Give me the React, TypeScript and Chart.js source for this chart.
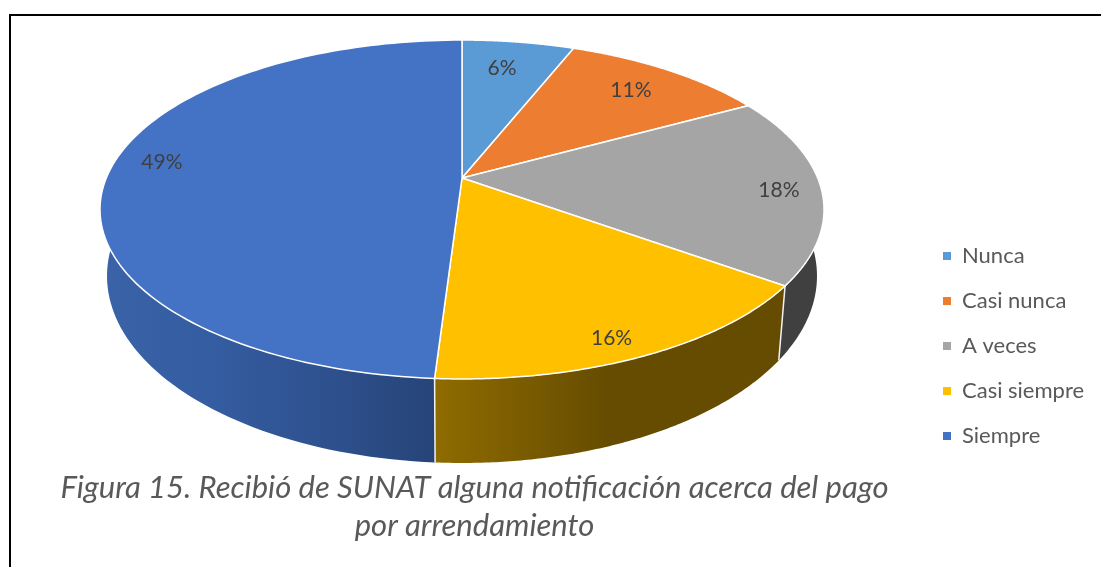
import React, { useEffect, useRef } from "react";
import { Chart, registerables } from "chart.js";

Chart.register(...registerables);

const categories = ["Nunca", "Casi nunca", "A veces", "Casi siempre", "Siempre"];
const percentages = [6, 11, 18, 16, 49];
const sliceColors = ["#5B9BD5", "#ED7D31", "#A5A5A5", "#FFC000", "#4472C4"];
const titleLines = [
  "Figura 15. Recibió de SUNAT alguna notificación acerca del pago",
  "por arrendamiento",
];

// Perspective of the two rims of the 3D disc
const K = 0.1858;
const TOP = { x0: 462, y0: 178, a: 355.7, b: 163.6 };
const BOT = { x0: 462, y0: 241.3, a: 348.8, b: 180.5 };
const LABEL_RADIUS = [0.779, 0.798, 0.882, 0.9, 0.865];
const LABEL_NUDGE_DEG = [-1.3, 0, 1.1, 1.9, 4.8];

type Rim = typeof TOP;
const project = (r: Rim, u: number, v: number) => {
  const w = 1 - K * v;
  return { x: r.x0 + (r.a * u) / w, y: r.y0 + (r.b * v) / w };
};
const rimPoint = (r: Rim, angle: number, scale = 1) =>
  project(r, scale * Math.cos(angle), scale * Math.sin(angle));

const sideFill = (ctx: CanvasRenderingContext2D, i: number) => {
  if (i === 4) {
    const g = ctx.createLinearGradient(100, 0, 434, 0);
    g.addColorStop(0, "#3A63A8");
    g.addColorStop(0.35, "#345CA0");
    g.addColorStop(0.65, "#2F5290");
    g.addColorStop(1, "#264478");
    return g;
  }
  if (i === 3) {
    const g = ctx.createLinearGradient(434, 0, 780, 0);
    g.addColorStop(0, "#8F6C00");
    g.addColorStop(0.5, "#664C00");
    g.addColorStop(1, "#664C00");
    return g;
  }
  return "#404040";
};

const pie3d = {
  id: "pie3d",
  beforeDraw(chart: any) {
    const legend = chart.legend;
    legend.left = 920;
    legend.top = 222;
    legend.bottom = 500;
    const title = chart.titleBlock;
    title.left = 0;
    title.right = 949;
    title.top = 469;
    title.bottom = 552;
  },
  beforeDatasetsDraw(chart: any) {
    const ctx: CanvasRenderingContext2D = chart.ctx;
    const arcs = chart.getDatasetMeta(0).data;
    ctx.save();
    const steps = 120;
    const sample = (r: Rim, a0: number, a1: number) => {
      const pts = [];
      for (let s = 0; s <= steps; s++) pts.push(rimPoint(r, a0 + ((a1 - a0) * s) / steps));
      return pts;
    };
    // side walls
    arcs.forEach((arc: any, i: number) => {
      const { startAngle: a0, endAngle: a1 } = arc;
      const pts = [...sample(TOP, a0, a1), ...sample(BOT, a0, a1).reverse()];
      ctx.beginPath();
      pts.forEach((p, n) => (n ? ctx.lineTo(p.x, p.y) : ctx.moveTo(p.x, p.y)));
      ctx.closePath();
      ctx.fillStyle = sideFill(ctx, i);
      ctx.fill();
    });
    // wall separators on the visible front
    arcs.forEach((arc: any) => {
      const a = arc.startAngle;
      if (Math.sin(a) > 0.3) {
        const p = rimPoint(TOP, a);
        const q = rimPoint(BOT, a);
        ctx.beginPath();
        ctx.moveTo(p.x, p.y);
        ctx.lineTo(q.x, q.y);
        ctx.strokeStyle = "#F2F2F2";
        ctx.lineWidth = 1.5;
        ctx.stroke();
      }
    });
    // top face
    arcs.forEach((arc: any, i: number) => {
      const { startAngle: a0, endAngle: a1 } = arc;
      const c = project(TOP, 0, 0);
      ctx.beginPath();
      ctx.moveTo(c.x, c.y);
      sample(TOP, a0, a1).forEach((p) => ctx.lineTo(p.x, p.y));
      ctx.closePath();
      ctx.fillStyle = sliceColors[i];
      ctx.fill();
      ctx.strokeStyle = "#FFFFFF";
      ctx.lineWidth = 1.5;
      ctx.stroke();
    });
    // data labels
    ctx.fillStyle = "#404040";
    ctx.font = "21px Lato";
    ctx.textAlign = "center";
    ctx.textBaseline = "middle";
    arcs.forEach((arc: any, i: number) => {
      const mid = (arc.startAngle + arc.endAngle) / 2 + (LABEL_NUDGE_DEG[i] * Math.PI) / 180;
      const p = rimPoint(TOP, mid, LABEL_RADIUS[i]);
      ctx.fillText(`${percentages[i]}%`, p.x, p.y);
    });
    ctx.restore();
    return false;
  },
};

export default function App() {
  const ref = useRef<HTMLCanvasElement>(null);
  useEffect(() => {
    const chart = new Chart(ref.current as HTMLCanvasElement, {
      type: "pie",
      data: {
        labels: categories,
        datasets: [{ data: percentages, backgroundColor: sliceColors, borderWidth: 0 }],
      },
      options: {
        responsive: false,
        animation: false,
        plugins: {
          tooltip: { enabled: false },
          title: {
            display: true,
            text: titleLines,
            position: "bottom",
            align: "center",
            color: "#595959",
            padding: 0,
            font: { family: "Lato", size: 31, style: "italic", weight: "normal", lineHeight: 1.226 },
          },
          legend: {
            position: "right",
            align: "start",
            labels: {
              boxWidth: 8,
              boxHeight: 8,
              padding: 23,
              color: "#595959",
              font: { family: "Lato", size: 22 },
            },
          },
        },
      } as any,
      plugins: [pie3d],
    });
    return () => chart.destroy();
  }, []);
  return (
    <div style={{ position: "fixed", inset: 0, width: 1101, height: 567, overflow: "hidden", background: "#fff" }}>
      <canvas ref={ref} width={1101} height={567} style={{ display: "block" }} />
      <div style={{ position: "absolute", left: 9, top: 14, width: 1092, height: 553, boxSizing: "border-box", borderTop: "2px solid #000", borderLeft: "2px solid #000" }} />
    </div>
  );
}
